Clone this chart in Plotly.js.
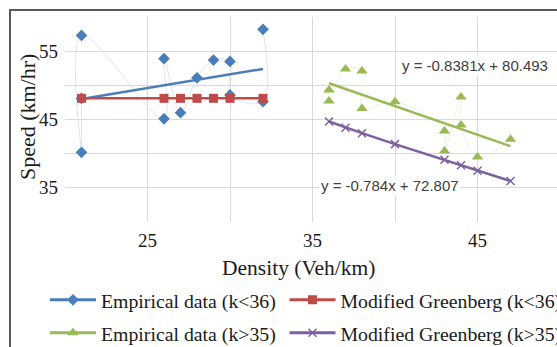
<!DOCTYPE html>
<html>
<head>
<meta charset="utf-8">
<script src="https://cdn.plot.ly/plotly-3.0.1.min.js"></script>
<style>
html,body{margin:0;padding:0;overflow:hidden;background:#fff;width:557px;height:347px;}
#wrap{position:relative;width:557px;height:347px;overflow:hidden;}
#chart{position:absolute;left:0;top:0;width:557px;height:347px;}
#frame{position:absolute;left:9px;top:9px;width:600px;height:400px;border-left:2.5px solid #5A5A5A;border-top:2.5px solid #5A5A5A;pointer-events:none;}
</style>
</head>
<body>
<div id="wrap"><div id="chart"></div><div id="frame"></div></div>
<script>
// Empirical data (k<36)
const empLowX = [21, 21, 21, 26, 26, 27, 28, 29, 30, 30, 32, 32];
const empLowY = [48.1, 40.2, 57.3, 45.1, 53.9, 46.0, 51.1, 53.7, 53.5, 48.6, 47.6, 58.2];
// Modified Greenberg (k<36)
const mgLowX = [21, 26, 27, 28, 29, 30, 32];
const mgLowY = [48.1, 48.1, 48.1, 48.1, 48.1, 48.1, 48.1];
// Linear trend of empirical (k<36)
const trendLowX = [21, 32];
const trendLowY = [48.0, 52.4];
// Empirical data (k>35)
const empHighX = [36, 36, 37, 38, 38, 40, 43, 43, 44, 44, 45, 47];
const empHighY = [49.3, 47.7, 52.4, 52.1, 46.6, 47.6, 43.3, 40.4, 48.3, 44.2, 39.5, 42.1];
// Modified Greenberg (k>35)
const mgHighX = [36, 37, 38, 40, 43, 44, 45, 47];
const mgHighY = [44.7, 43.8, 43.0, 41.4, 39.1, 38.3, 37.5, 36.0];
// Linear trend of empirical (k>35)
const trendHighX = [36, 47];
const trendHighY = [50.3, 41.1];
// Trend equations and titles
const eqGreen = "y = -0.8381x + 80.493";
const eqPurple = "y = -0.784x + 72.807";
const xTitle = "Density (Veh/km)";
const yTitle = "Speed (km/hr)";
const seriesNames = ['Empirical data (k<36)', 'Modified Greenberg (k<36)', 'Empirical data (k>35)', 'Modified Greenberg (k>35)'];

const BLUE = '#4A7EBB', RED = '#BE4B48', GREEN = '#98B954', PURPLE = '#7D60A0';
const serif = 'Liberation Serif, Times New Roman, serif';
const TXT = '#1a1a1a';

const traces = [
  {x: empLowX, y: empLowY, mode: 'lines+markers', line: {shape: 'spline', color: '#DCE5F1', width: 1},
   marker: {symbol: 'diamond', size: 9, color: BLUE}, showlegend: false},
  {x: trendLowX, y: trendLowY, mode: 'lines', line: {color: BLUE, width: 2.5}, showlegend: false},
  {x: mgLowX, y: mgLowY, mode: 'lines+markers', line: {color: RED, width: 2.5},
   marker: {symbol: 'square', size: 9, color: RED}, showlegend: false},
  {x: empHighX, y: empHighY, mode: 'lines+markers', line: {shape: 'spline', color: '#EEF3E0', width: 1},
   marker: {symbol: 'triangle-up', size: 10, color: GREEN}, showlegend: false},
  {x: trendHighX, y: trendHighY, mode: 'lines', line: {color: GREEN, width: 2.5}, showlegend: false},
  {x: mgHighX, y: mgHighY, mode: 'lines+markers', line: {color: PURPLE, width: 2.5},
   marker: {symbol: 'x-thin-open', size: 8, color: PURPLE, line: {width: 1.5, color: PURPLE}}, showlegend: false},
  // legend entries
  {x: [null], y: [null], name: seriesNames[0], mode: 'lines+markers', line: {color: BLUE, width: 3},
   marker: {symbol: 'diamond', size: 9, color: BLUE}, legend: 'legend'},
  {x: [null], y: [null], name: seriesNames[1], mode: 'lines+markers', line: {color: RED, width: 3},
   marker: {symbol: 'square', size: 9, color: RED}, legend: 'legend2'},
  {x: [null], y: [null], name: seriesNames[2], mode: 'lines+markers', line: {color: GREEN, width: 3},
   marker: {symbol: 'triangle-up', size: 10, color: GREEN}, legend: 'legend3'},
  {x: [null], y: [null], name: seriesNames[3], mode: 'lines+markers', line: {color: PURPLE, width: 3},
   marker: {symbol: 'x-thin-open', size: 8, color: PURPLE, line: {width: 1.5, color: PURPLE}}, legend: 'legend4'}
];

function leg(x, y) {
  return {orientation: 'h', xanchor: 'left', yanchor: 'middle', x: x, y: y,
    font: {family: serif, size: 19.8, color: TXT}, itemwidth: 46,
    bgcolor: 'rgba(0,0,0,0)', borderwidth: 0};
}

const W = 557;
const PW = W - 65; // plot width px, plot runs to the right edge
const layout = {
  width: W, height: 347,
  margin: {l: 65, r: 0, t: 17, b: 125, autoexpand: false},
  paper_bgcolor: '#fff', plot_bgcolor: '#fff',
  font: {family: serif, color: TXT},
  xaxis: {range: [20, 20 + PW / 16.5], tick0: 25, dtick: 10, showgrid: true, gridcolor: '#D9D9D9', gridwidth: 1,
    minor: {dtick: 5, tick0: 20, showgrid: true, gridcolor: '#D9D9D9', gridwidth: 1},
    zeroline: false, showline: false, ticks: '', ticklabelstandoff: 5, automargin: false,
    tickfont: {family: serif, size: 19, color: TXT}},
  yaxis: {range: [30, 60], tick0: 35, dtick: 10, showgrid: true, gridcolor: '#D9D9D9', gridwidth: 1,
    minor: {dtick: 5, tick0: 30, showgrid: true, gridcolor: '#D9D9D9', gridwidth: 1},
    zeroline: false, showline: false, ticks: '', ticklabelstandoff: 6, automargin: false,
    tickfont: {family: serif, size: 19, color: TXT}},
  legend: leg((45 - 65) / PW, -0.3805),
  legend2: leg((284.5 - 65) / PW, -0.3805),
  legend3: leg((45 - 65) / PW, -0.541),
  legend4: leg((284.5 - 65) / PW, -0.541),
  annotations: [
    {x: 44.85, y: 52.9, xref: 'x', yref: 'y', text: eqGreen, showarrow: false, bgcolor: '#fff',
     font: {family: 'Liberation Sans, Arial, sans-serif', size: 15, color: '#404040'}},
    {x: 39.7, y: 35.4, xref: 'x', yref: 'y', text: eqPurple, showarrow: false, bgcolor: '#fff',
     font: {family: 'Liberation Sans, Arial, sans-serif', size: 15, color: '#404040'}},
    {x: (298 - 65) / PW, y: -0.224, xref: 'paper', yref: 'paper', text: xTitle, showarrow: false,
     xanchor: 'center', yanchor: 'middle', font: {family: serif, size: 21.5, color: TXT}},
    {x: (27 - 65) / PW, y: 0.512, xref: 'paper', yref: 'paper', text: yTitle, showarrow: false, textangle: -90,
     xanchor: 'center', yanchor: 'middle', font: {family: serif, size: 22, color: TXT}}
  ],
  showlegend: true
};

Plotly.newPlot('chart', traces, layout, {staticPlot: true, displayModeBar: false});
</script>
</body>
</html>
